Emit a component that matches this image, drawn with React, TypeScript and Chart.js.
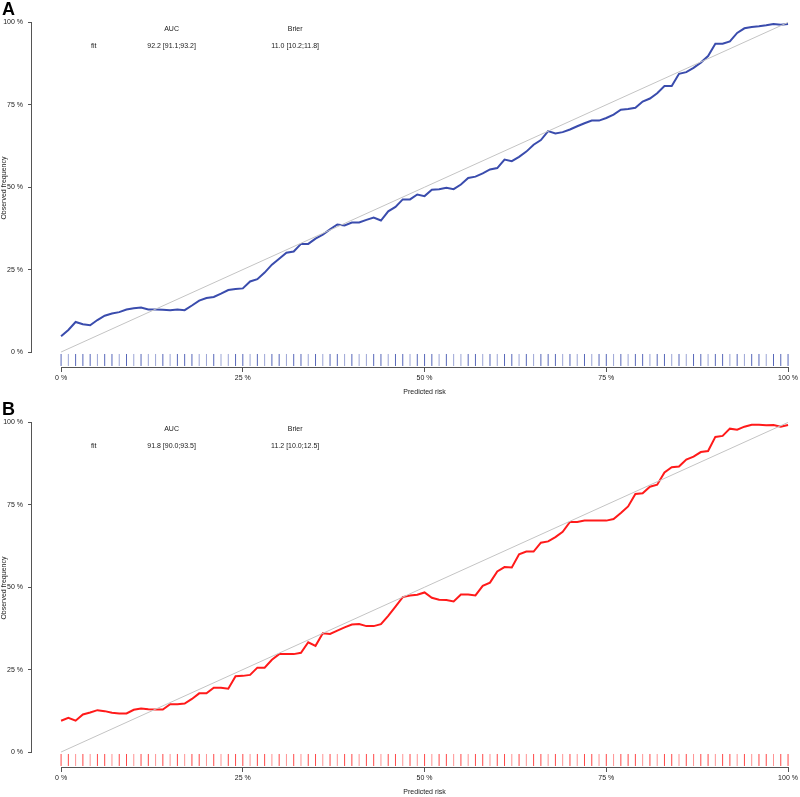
import React, { useEffect, useRef } from "react";
import { Chart, registerables } from "chart.js";

Chart.register(...registerables);

const predictedRisk = [
  0.0, 0.01, 0.02, 0.03, 0.04, 0.05, 0.06, 0.07, 0.08, 0.09,
  0.1, 0.11, 0.12, 0.13, 0.14, 0.15, 0.16, 0.17, 0.18, 0.19,
  0.2, 0.21, 0.22, 0.23, 0.24, 0.25, 0.26, 0.27, 0.28, 0.29,
  0.3, 0.31, 0.32, 0.33, 0.34, 0.35, 0.36, 0.37, 0.38, 0.39,
  0.4, 0.41, 0.42, 0.43, 0.44, 0.45, 0.46, 0.47, 0.48, 0.49,
  0.5, 0.51, 0.52, 0.53, 0.54, 0.55, 0.56, 0.57, 0.58, 0.59,
  0.6, 0.61, 0.62, 0.63, 0.64, 0.65, 0.66, 0.67, 0.68, 0.69,
  0.7, 0.71, 0.72, 0.73, 0.74, 0.75, 0.76, 0.77, 0.78, 0.79,
  0.8, 0.81, 0.82, 0.83, 0.84, 0.85, 0.86, 0.87, 0.88, 0.89,
  0.9, 0.91, 0.92, 0.93, 0.94, 0.95, 0.96, 0.97, 0.98, 0.99,
  1.0,
];

const observedA = [
  0.048, 0.067, 0.091, 0.084, 0.081, 0.097, 0.11, 0.117, 0.121, 0.129,
  0.133, 0.135, 0.129, 0.129, 0.128, 0.127, 0.129, 0.127, 0.141, 0.156,
  0.164, 0.167, 0.177, 0.188, 0.191, 0.193, 0.214, 0.221, 0.241, 0.265,
  0.283, 0.301, 0.305, 0.328, 0.328, 0.344, 0.356, 0.372, 0.387, 0.384,
  0.393, 0.393, 0.401, 0.408, 0.399, 0.427, 0.44, 0.463, 0.463, 0.478,
  0.473, 0.492, 0.494, 0.498, 0.494, 0.508, 0.528, 0.532, 0.542, 0.554,
  0.558, 0.584, 0.579, 0.592, 0.608, 0.629, 0.643, 0.67, 0.663, 0.667,
  0.675, 0.685, 0.694, 0.702, 0.702, 0.71, 0.72, 0.735, 0.737, 0.741,
  0.76, 0.769, 0.785, 0.807, 0.807, 0.844, 0.849, 0.862, 0.878, 0.898,
  0.935, 0.935, 0.942, 0.968, 0.982, 0.986, 0.988, 0.991, 0.995, 0.993,
  0.995,
];

const observedB = [
  0.095, 0.104, 0.095, 0.114, 0.12, 0.127, 0.124, 0.119, 0.117, 0.117,
  0.128, 0.132, 0.13, 0.129, 0.129, 0.145, 0.145, 0.147, 0.161, 0.178,
  0.178, 0.195, 0.195, 0.192, 0.23, 0.231, 0.234, 0.256, 0.256, 0.28,
  0.297, 0.297, 0.297, 0.301, 0.333, 0.322, 0.36, 0.358, 0.368, 0.378,
  0.387, 0.388, 0.382, 0.382, 0.388, 0.413, 0.441, 0.47, 0.475, 0.477,
  0.484, 0.468, 0.462, 0.461, 0.457, 0.478, 0.478, 0.475, 0.504, 0.514,
  0.548, 0.561, 0.56, 0.6, 0.608, 0.608, 0.635, 0.639, 0.652, 0.668,
  0.698, 0.698, 0.702, 0.702, 0.702, 0.702, 0.707, 0.725, 0.745, 0.783,
  0.785, 0.805, 0.811, 0.848, 0.864, 0.866, 0.887, 0.896, 0.91, 0.913,
  0.956, 0.959, 0.981, 0.978, 0.987, 0.993, 0.993, 0.991, 0.992, 0.987,
  0.992,
];

// rug density weight (1 = dense/dark, 0 = sparse/light)
const rugWeightA = [
  1, 0, 1, 1, 1, 0, 1, 1, 0, 1,
  0, 1, 0, 0, 1, 0, 1, 1, 1, 0,
  0, 1, 0, 0, 1, 1, 0, 1, 0, 1,
  1, 0, 1, 1, 0, 1, 0, 1, 1, 0,
  1, 0, 0, 1, 1, 0, 1, 1, 0, 1,
  1, 1, 0, 1, 0, 0, 1, 1, 0, 1,
  0, 1, 1, 0, 1, 0, 1, 1, 1, 0,
  1, 0, 1, 0, 1, 1, 0, 1, 0, 1,
  1, 0, 1, 1, 0, 1, 0, 1, 1, 0,
  1, 1, 0, 1, 0, 1, 1, 0, 1, 1,
  1,
];
const rugWeightB = [
  1, 1, 0, 1, 0, 1, 1, 0, 1, 1,
  0, 1, 1, 0, 1, 0, 1, 0, 1, 1,
  0, 1, 0, 1, 1, 1, 0, 1, 1, 0,
  1, 0, 1, 0, 1, 1, 0, 1, 0, 1,
  1, 0, 1, 1, 0, 1, 1, 0, 1, 0,
  1, 0, 1, 1, 0, 1, 0, 1, 1, 0,
  1, 1, 0, 1, 0, 1, 1, 0, 1, 0,
  1, 0, 1, 1, 0, 1, 0, 1, 1, 1,
  0, 1, 0, 1, 1, 0, 1, 0, 1, 1,
  0, 1, 1, 0, 1, 0, 1, 1, 0, 1,
  1,
];

const xTicks = [0, 0.25, 0.5, 0.75, 1];
const yTicks = [0, 0.25, 0.5, 0.75, 1];
const legendHeader = ["AUC", "Brier"];
const legendRowLabel = "fit";
const panelA = { letter: "A", auc: "92.2 [91.1;93.2]", brier: "11.0 [10.2;11.8]" };
const panelB = { letter: "B", auc: "91.8 [90.0;93.5]", brier: "11.2 [10.0;12.5]" };

const FONT = '"Liberation Sans", Arial, sans-serif';
const TEXT = "#1a1a1a";
const AXIS = "#555555";

function pct(v: number) {
  return `${Math.round(v * 100)} %`;
}

function makeOverlay(panel: { letter: string; auc: string; brier: string }) {
  return {
    id: "overlay" + panel.letter,
    afterDraw(chart: any) {
      const { ctx, chartArea } = chart;
      const x = chart.scales.x;
      const y = chart.scales.y;
      ctx.save();
      ctx.strokeStyle = AXIS;
      ctx.lineWidth = 1;
      ctx.beginPath();
      const yb = Math.round(chartArea.bottom) + 0.5;
      ctx.moveTo(x.getPixelForValue(0), yb);
      ctx.lineTo(x.getPixelForValue(1), yb);
      const xl = Math.round(chartArea.left) - 0.5;
      ctx.moveTo(xl, y.getPixelForValue(0));
      ctx.lineTo(xl, y.getPixelForValue(1));
      ctx.stroke();

      ctx.fillStyle = "#000";
      ctx.font = `bold 18px ${FONT}`;
      ctx.textAlign = "left";
      ctx.textBaseline = "alphabetic";
      ctx.fillText(panel.letter, 2, 15);

      ctx.fillStyle = TEXT;
      ctx.font = `7px ${FONT}`;
      ctx.textAlign = "center";
      ctx.textBaseline = "middle";
      const cAuc = x.getPixelForValue(0.152);
      const cBrier = x.getPixelForValue(0.322);
      const cFit = x.getPixelForValue(0.045);
      const r1 = y.getPixelForValue(0.979);
      const r2 = y.getPixelForValue(0.927);
      ctx.fillText(legendHeader[0], cAuc, r1);
      ctx.fillText(legendHeader[1], cBrier, r1);
      ctx.fillText(legendRowLabel, cFit, r2);
      ctx.fillText(panel.auc, cAuc, r2);
      ctx.fillText(panel.brier, cBrier, r2);

      const cx = (x.getPixelForValue(0) + x.getPixelForValue(1)) / 2;
      ctx.fillText("Predicted risk", cx, chartArea.bottom + 25);
      ctx.restore();
    },
  };
}

function buildConfig(
  observed: number[],
  lineColor: string,
  rugRgb: string,
  rugWeight: number[],
  panel: { letter: string; auc: string; brier: string }
) {
  const curve = predictedRisk.map((p, i) => ({ x: p, y: observed[i] }));
  const rug = predictedRisk.map((p) => ({ x: p, y: -0.0242 }));
  const rugColors = rugWeight.map((w) => `rgba(${rugRgb},${w ? 0.85 : 0.5})`);
  return {
    type: "scatter",
    data: {
      datasets: [
        {
          type: "line",
          data: [
            { x: 0, y: 0 },
            { x: 1, y: 1 },
          ],
          borderColor: "#c4c4c4",
          borderWidth: 1,
          pointRadius: 0,
          fill: false,
        },
        {
          type: "line",
          data: curve,
          borderColor: lineColor,
          borderWidth: 2,
          pointRadius: 0,
          tension: 0,
          fill: false,
        },
        {
          type: "scatter",
          data: rug,
          pointStyle: "line",
          rotation: 90,
          radius: 6,
          borderWidth: 1,
          borderColor: rugColors,
          backgroundColor: rugColors,
        },
      ],
    },
    options: {
      animation: false,
      responsive: false,
      maintainAspectRatio: false,
      layout: { autoPadding: false, padding: { top: 8.8, right: 6, left: 0, bottom: 0 } },
      plugins: { legend: { display: false }, tooltip: { enabled: false }, title: { display: false } },
      scales: {
        x: {
          type: "linear",
          min: -0.04,
          max: 1.005,
          afterBuildTicks: (s: any) => {
            s.ticks = xTicks.map((v) => ({ value: v }));
          },
          afterFit: (s: any) => {
            s.height = 33;
          },
          ticks: {
            autoSkip: false,
            maxRotation: 0,
            padding: 2,
            color: TEXT,
            font: { size: 7, family: FONT },
            callback: (v: any) => pct(Number(v)),
          },
          grid: { drawOnChartArea: false, drawTicks: true, tickLength: 5, color: AXIS },
          border: { display: false },
        },
        y: {
          type: "linear",
          min: -15 / 330,
          max: 1.04,
          afterBuildTicks: (s: any) => {
            s.ticks = yTicks.map((v) => ({ value: v }));
          },
          afterFit: (s: any) => {
            s.width = 32;
          },
          ticks: {
            autoSkip: false,
            padding: 5,
            color: TEXT,
            font: { size: 7, family: FONT },
            callback: (v: any) => pct(Number(v)),
          },
          grid: { drawOnChartArea: false, drawTicks: true, tickLength: 4, color: AXIS },
          border: { display: false },
          title: {
            display: true,
            text: "Observed frequency",
            color: TEXT,
            font: { size: 7, family: FONT },
            padding: 0,
          },
        },
      },
    },
    plugins: [makeOverlay(panel)],
  };
}

function Panel(props: {
  observed: number[];
  lineColor: string;
  rugRgb: string;
  rugWeight: number[];
  panel: { letter: string; auc: string; brier: string };
}) {
  const ref = useRef<HTMLCanvasElement>(null);
  useEffect(() => {
    if (!ref.current) return;
    const chart = new Chart(
      ref.current,
      buildConfig(props.observed, props.lineColor, props.rugRgb, props.rugWeight, props.panel) as any
    );
    return () => chart.destroy();
  }, []);
  return <canvas ref={ref} width={800} height={400} style={{ display: "block", width: 800, height: 400 }} />;
}

export default function App() {
  return (
    <div
      style={{
        position: "absolute",
        left: 0,
        top: 0,
        width: 800,
        height: 797,
        overflow: "hidden",
        background: "#fff",
      }}
    >
      <Panel observed={observedA} lineColor="#3a4cad" rugRgb="58,76,173" rugWeight={rugWeightA} panel={panelA} />
      <Panel observed={observedB} lineColor="#ff1a1a" rugRgb="255,40,40" rugWeight={rugWeightB} panel={panelB} />
    </div>
  );
}
